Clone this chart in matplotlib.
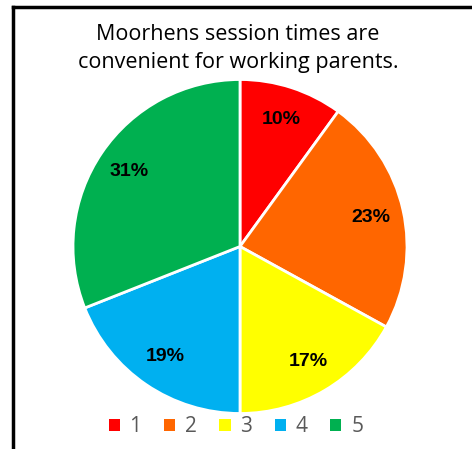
import matplotlib
matplotlib.use("Agg")
import matplotlib.pyplot as plt
from matplotlib.lines import Line2D
from matplotlib.patches import Patch

categories = ["1", "2", "3", "4", "5"]
values = [10, 23, 17, 19, 31]
colors = ["#FF0000", "#FF6600", "#FFFF00", "#00B0F0", "#00B050"]
title = "Moorhens session times are\nconvenient for working parents."

W, H = 472, 449
fig = plt.figure(figsize=(W / 100, H / 100), dpi=100)
fig.patch.set_facecolor("white")

cx, cy, r = 240, 246.5, 167
ax = fig.add_axes([(cx - r) / W, (H - cy - r) / H, 2 * r / W, 2 * r / H])
wedges, texts, autotexts = ax.pie(
    values, colors=colors, startangle=90, counterclock=False,
    autopct=lambda p: f"{p:.0f}%", pctdistance=0.8,
    wedgeprops=dict(edgecolor="white", linewidth=2),
    textprops=dict(fontsize=14, fontweight="bold", color="black", family="Liberation Sans"),
)
ax.set_xlim(-1, 1)
ax.set_ylim(-1, 1)
ax.set_aspect("equal")
ax.axis("off")

fig.text(238 / W, 1 - 48.5 / H, title, ha="center", va="center", fontsize=15.5,
         family="Open Sans", linespacing=1.4, color="black")

handles = [Patch(facecolor=c, edgecolor="none") for c in colors]
fig.legend(handles, categories, loc="center", bbox_to_anchor=(236 / W, 1 - 427 / H),
           ncol=5, frameon=False, handlelength=0.53, handleheight=0.53,
           handletextpad=0.48, columnspacing=1.08, borderpad=0,
           prop=dict(family="Open Sans", size=15), labelcolor="#595959")

# outer border (left and top edges visible)
fig.add_artist(Line2D([12.5 / W, 12.5 / W], [0, 1 - 6.5 / H], color="black", lw=2.5,
                      transform=fig.transFigure, solid_capstyle="projecting"))
fig.add_artist(Line2D([12.5 / W, 1], [1 - 6.5 / H, 1 - 6.5 / H], color="black", lw=2.5,
                      transform=fig.transFigure, solid_capstyle="projecting"))

fig.savefig("out.png", dpi=100)
